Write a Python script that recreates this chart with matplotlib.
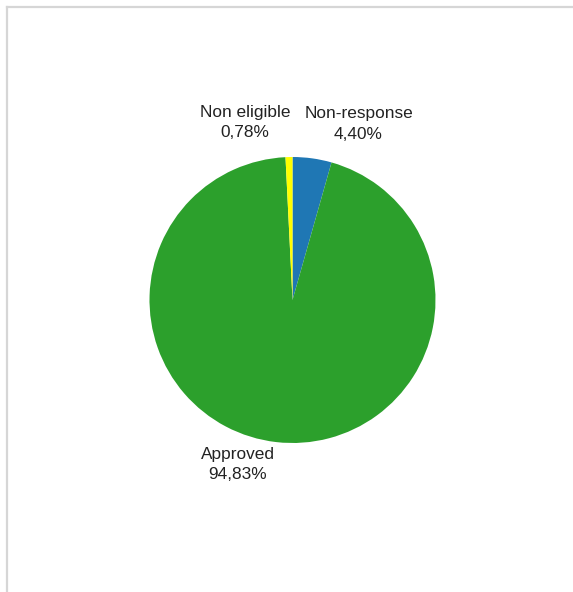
import matplotlib
matplotlib.use("Agg")
import matplotlib.pyplot as plt
from matplotlib.lines import Line2D

labels = ["Non-response", "Approved", "Non eligible"]
shares = [4.40, 94.83, 0.78]
colors = ["#1f77b4", "#2ca02c", "#ffff00"]

W, H = 573, 592
cx, cy = 292.5, H - 300

fig = plt.figure(figsize=(W / 100, H / 100), dpi=100)
fig.patch.set_facecolor("white")

# light grey frame on top and left edges
fig.add_artist(Line2D([6.5 / W, 6.5 / W], [0, 1 - 7 / H], transform=fig.transFigure,
                      color="#d6d6d6", lw=1.6))
fig.add_artist(Line2D([6.5 / W, 1], [1 - 7 / H, 1 - 7 / H], transform=fig.transFigure,
                      color="#d6d6d6", lw=1.6))

ax = fig.add_axes([0, 0, 1, 1])

texts = [f"{l}\n{v:.2f}%".replace(".", ",") for l, v in zip(labels, shares)]
wedges, txts = ax.pie(shares, labels=texts, colors=colors, startangle=90,
                      counterclock=False, radius=143, center=(cx, cy),
                      labeldistance=1.2, frame=True,
                      textprops=dict(fontsize=12.4, family="Liberation Sans",
                                     color="#222222", linespacing=1.45))
for t in txts:
    x, y = t.get_position()
    if x > cx:
        t.set_horizontalalignment("left")
        x -= 12
    else:
        t.set_horizontalalignment("right")
        x += 2
    t.set_multialignment("center")
    t.set_position((x, y + 6))

ax.set_xlim(0, W)
ax.set_ylim(0, H)
ax.set_aspect("equal")
ax.axis("off")

fig.savefig("out.png", dpi=100)
